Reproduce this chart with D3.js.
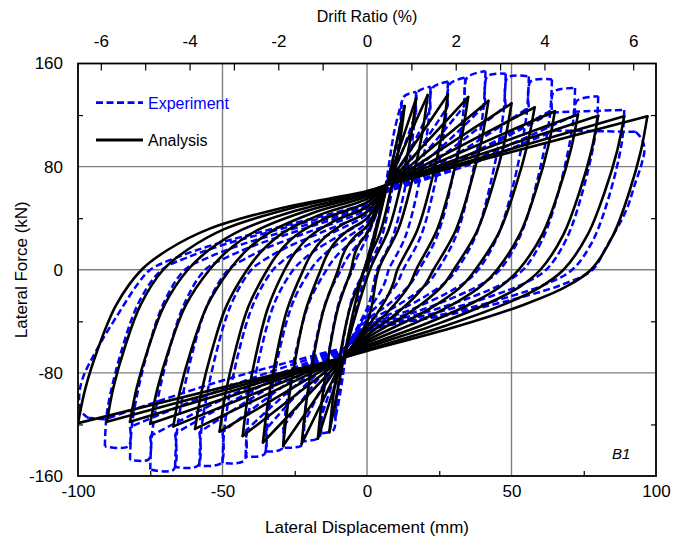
<!DOCTYPE html>
<html>
<head>
<meta charset="utf-8">
<script src="https://cdn.jsdelivr.net/npm/d3@7"></script>
<style>
  body { margin: 0; background: #fff; }
  svg text { font-family: "Liberation Sans", Arial, sans-serif; }
</style>
</head>
<body>
<svg id="chart" width="675" height="545"></svg>
<script>
// ---- axis ticks ----
const dispTicks  = [-100, -50, 0, 50, 100];
const dispMinor  = [-75, -25, 25, 75];
const dispGrid   = [-50, 0, 50];
const forceTicks = [-160, -80, 0, 80, 160];
const forceMinor = [-120, -40, 40, 120];
const forceGrid  = [-80, 0, 80];
const driftTicks = [-6, -4, -2, 0, 2, 4, 6];
const driftAll   = [-6, -5, -4, -3, -2, -1, 1, 2, 3, 4, 5, 6];
const wallHeight = 1535; // mm, displacement -> drift ratio

// ---- Analysis (solid): [displacement mm, force kN] ----
const analysisPosLoad = [
  [[0,0],[7,66],[13,127]],
  [[7,66],[17,133]],
  [[7,66],[21,135.5]],
  [[7,66],[28,136]],
  [[7,66],[35,134]],
  [[7,66],[42,131]],
  [[7,66],[50,129]],
  [[7,66],[58,126]],
  [[7,66],[65,123]],
  [[7,66],[73,120.5]],
  [[7,66],[80,119.5]],
  [[7,66],[89,119]],
  [[7,66],[97,119]]
];
const analysisPosUnload = [
  [[13,127],[11.3,97.8],[8.5,64.8],[4.6,29.2],[-1,0],[-8,-68]],
  [[17,133],[15.1,102.4],[11.9,67.8],[7.4,30.6],[1,0],[-8,-68]],
  [[21,135.5],[19,104.3],[15.6,69.1],[10.8,31.2],[4,0],[1.6,-28.7],[0,-41],[-8,-68]],
  [[28,136],[25.9,104.7],[22.4,69.4],[17.5,31.3],[10.5,0],[9.2,-9.9],[7.4,-19.4],[4.2,-31.5],[0,-45],[-8,-68]],
  [[35,134],[32.8,103.2],[29.2,68.3],[24.2,30.8],[17,0],[15,-10.6],[11.9,-20.6],[6.8,-33.6],[0,-48],[-8,-68]],
  [[42,131],[39.7,100.9],[35.9,66.8],[30.6,30.1],[23,0],[20.2,-11.2],[16.1,-21.9],[9.2,-35.7],[0,-51],[-8,-68]],
  [[50,129],[47.6,99.3],[43.6,65.8],[38,29.7],[30,0],[26.4,-11.7],[21,-22.8],[12,-37.1],[0,-53],[-8,-68]],
  [[58,126],[55.5,97],[51.4,64.3],[45.7,29],[37.5,0],[33,-12.1],[26.3,-23.7],[15,-38.5],[0,-55],[-8,-68]],
  [[65,123],[62.6,94.7],[58.6,62.7],[53,28.3],[45,0],[39.6,-12.5],[31.5,-24.5],[18,-39.9],[0,-57],[-8,-68]],
  [[73,120.5],[70.5,92.8],[66.4,61.5],[60.7,27.7],[52.5,0],[46.2,-13],[36.8,-25.4],[21,-41.3],[0,-59],[-8,-68]],
  [[80,119.5],[77.6,92],[73.6,60.9],[68,27.5],[60,0],[52.8,-13.3],[42,-26],[24,-42.4],[0,-60.5],[-8,-68]],
  [[89,119],[86.5,91.6],[82.3,60.7],[76.4,27.4],[68,0],[59.8,-13.6],[47.6,-26.7],[27.2,-43.4],[0,-62],[-8,-68]],
  [[97,119],[94.7,91.6],[90.8,60.7],[85.3,27.4],[77.5,0],[68.2,-13.9],[54.3,-27.1],[31,-44.1],[0,-63],[-8,-68]]
];
const analysisNegLoad = [
  [[-8,-68],[-13,-126]],
  [[-8,-68],[-17,-131]],
  [[-8,-68],[-22.6,-135]],
  [[-8,-68],[-29,-136.5]],
  [[-8,-68],[-36,-134]],
  [[-8,-68],[-43,-129]],
  [[-8,-68],[-51,-125.5]],
  [[-8,-68],[-59.5,-123.5]],
  [[-8,-68],[-67,-121.5]],
  [[-8,-68],[-75,-119.5]],
  [[-8,-68],[-82,-118]],
  [[-8,-68],[-90,-118]],
  [[-8,-68],[-100,-119]]
];
const analysisNegUnload = [
  [[-13,-126],[-11.6,-97],[-9.2,-64.3],[-5.8,-29],[-1,0],[7,66]],
  [[-17,-131],[-15.6,-100.9],[-13.3,-66.8],[-10.1,-30.1],[-5.5,0],[-4.8,7.3],[-3.9,14.6],[-2.2,21.6],[0,28],[7,66]],
  [[-22.6,-135],[-21.1,-104],[-18.6,-68.9],[-15,-31.1],[-10,0],[-8.8,8.8],[-7,17.7],[-4,26.2],[0,34],[7,66]],
  [[-29,-136.5],[-27.4,-105.1],[-24.8,-69.6],[-21.2,-31.4],[-16,0],[-14.1,10.4],[-11.2,20.8],[-6.4,30.8],[0,40],[7,66]],
  [[-36,-134],[-34.3,-103.2],[-31.5,-68.3],[-27.6,-30.8],[-22,0],[-19.4,11.7],[-15.4,23.4],[-8.8,34.7],[0,45],[7,66]],
  [[-43,-129],[-41.3,-99.3],[-38.4,-65.8],[-34.3,-29.7],[-28.5,0],[-25.1,12.7],[-20,25.5],[-11.4,37.7],[0,49],[7,66]],
  [[-51,-125.5],[-49,-96.6],[-45.7,-64],[-41.1,-28.9],[-34.5,0],[-30.4,13.7],[-24.2,27.3],[-13.8,40.4],[0,52.5],[7,66]],
  [[-59.5,-123.5],[-57.3,-95.1],[-53.7,-63],[-48.7,-28.4],[-41.5,0],[-36.5,14.3],[-29.1,28.6],[-16.6,42.4],[0,55],[7,66]],
  [[-67,-121.5],[-64.7,-93.6],[-60.8,-62],[-55.3,-27.9],[-47.5,0],[-41.8,14.8],[-33.3,29.6],[-19,43.9],[0,57],[7,66]],
  [[-75,-119.5],[-72.5,-92],[-68.4,-60.9],[-62.7,-27.5],[-54.5,0],[-48,15.2],[-38.2,30.4],[-21.8,45],[0,58.5],[7,66]],
  [[-82,-118],[-79.6,-90.9],[-75.6,-60.2],[-70,-27.1],[-62,0],[-54.6,15.5],[-43.4,30.9],[-24.8,45.8],[0,59.5],[7,66]],
  [[-90,-118],[-87.7,-90.9],[-83.8,-60.2],[-78.3,-27.1],[-70.5,0],[-62,15.7],[-49.4,31.5],[-28.2,46.6],[0,60.5],[7,66]],
  [[-100,-119],[-97.4,-91.6],[-93,-60.7],[-86.8,-27.4],[-78,0],[-68.6,15.9],[-54.6,31.7],[-31.2,47],[0,61],[7,66]]
];

// ---- Experiment (dashed): [displacement mm, force kN] ----
const expPosLoad = [
  [[0,0],[6,60],[9.5,108],[12,130]],
  [[6,60],[9,86.1],[12,118]],
  [[6,60],[11.5,87.9],[17,122]],
  [[6,60],[14,89.3],[22,125]],
  [[6,60],[17,90.2],[28,127]],
  [[6,60],[20,90.6],[34,128]],
  [[6,60],[23.5,90.6],[41,128]],
  [[6,60],[27,90.2],[48,127]],
  [[6,60],[31,89.7],[56,126]],
  [[6,60],[35,88.8],[64,124]],
  [[6,60],[39,87],[72,120]],
  [[6,60],[35,87.9],[64,122]],
  [[6,60],[35.5,81.6],[65,108]]
];
const expPosPlateau = [
  [[12,118],[12.6,134],[17,138]],
  [[17,122],[17.6,138],[22,142]],
  [[22,125],[22.6,141],[28,146]],
  [[28,127],[28.6,144],[34,149]],
  [[34,128],[34.6,149],[41,154]],
  [[41,128],[41.6,150],[48,152]],
  [[48,127],[48.6,149],[56,150]],
  [[56,126],[56.6,146],[64,147.6]],
  [[64,124],[64.6,138],[72,141]],
  [[72,120],[72.6,131],[80,134.6]],
  [[64,122],[76,123],[89,124]],
  [[65,108],[80,107.5],[93,107]]
];
const expPosUnload = [
  [[12,130],[11.2,104],[8.4,58.5],[4.6,22.1],[0,0],[-7,-60]],
  [[17,138],[16.2,110.4],[13,62.1],[8.6,23.5],[3.5,0],[1.4,-21],[0,-30],[-7,-60]],
  [[22,142],[21.2,113.6],[17.7,63.9],[13,24.1],[7.5,0],[6.6,-7.3],[5.3,-14.2],[3,-23.1],[0,-33],[-7,-60]],
  [[28,146],[27.2,116.8],[23.4,65.7],[18.4,24.8],[12.5,0],[11,-7.9],[8.8,-15.5],[5,-25.2],[0,-36],[-7,-60]],
  [[34,149],[33.2,119.2],[29.2,67.1],[24.1,25.3],[18,0],[15.8,-8.6],[12.6,-16.8],[7.2,-27.3],[0,-39],[-7,-60]],
  [[41,154],[40.2,123.2],[36,69.3],[30.8,26.2],[24.5,0],[21.6,-9],[17.2,-17.6],[9.8,-28.7],[0,-41],[-7,-60]],
  [[48,152],[47.2,121.6],[42.9,68.4],[37.5,25.8],[31,0],[27.3,-9.5],[21.7,-18.5],[12.4,-30.1],[0,-43],[-7,-60]],
  [[56,150],[55.2,120],[50.8,67.5],[45.1,25.5],[38.5,0],[33.9,-9.7],[27,-18.9],[15.4,-30.8],[0,-44],[-7,-60]],
  [[64,147.6],[63.2,118.1],[58.6,66.4],[52.8,25.1],[46,0],[40.5,-9.9],[32.2,-19.4],[18.4,-31.5],[0,-45],[-7,-60]],
  [[72,141],[71.2,112.8],[66.6,63.5],[60.8,24],[54,0],[47.5,-10.1],[37.8,-19.8],[21.6,-32.2],[0,-46],[-7,-60]],
  [[80,134.6],[79.2,107.7],[74.6,60.6],[68.8,22.9],[62,0],[54.6,-10.3],[43.4,-20.2],[24.8,-32.9],[0,-47],[-7,-60]],
  [[89,124],[88.2,99.2],[83.6,55.8],[77.8,21.1],[71,0],[62.5,-10.6],[49.7,-20.6],[28.4,-33.6],[0,-48],[-7,-60]],
  [[93,107],[95.2,101],[96,93],[95,82],[92.5,65],[89.8,46.6],[82.9,18],[78,0],[68.6,-10.6],[54.6,-20.6],[31.2,-33.6],[0,-48],[-7,-60]]
];
const expNegLoad = [
  [[-7,-60],[-9.2,-95],[-11,-116]],
  [[-7,-60],[-9,-83.4],[-11,-112]],
  [[-7,-60],[-11.5,-85.2],[-16,-116]],
  [[-7,-60],[-14.5,-87],[-22,-120]],
  [[-7,-60],[-18,-87.9],[-29,-122]],
  [[-7,-60],[-21,-88.8],[-35,-124]],
  [[-7,-60],[-24.5,-89.3],[-42,-125]],
  [[-7,-60],[-28.5,-89.7],[-50,-126]],
  [[-7,-60],[-32.5,-89.7],[-58,-126]],
  [[-7,-60],[-36.7,-90.2],[-66.4,-127]],
  [[-7,-60],[-41,-91],[-75,-129]],
  [[-7,-60],[-44.5,-87.9],[-82,-122]],
  [[-7,-60],[-48.9,-85.2],[-90.7,-116]]
];
const expNegPlateau = [
  [[-11,-112],[-11.5,-124],[-16,-127]],
  [[-16,-116],[-16.5,-130],[-22,-133]],
  [[-22,-120],[-22.5,-136],[-29,-138]],
  [[-29,-122],[-29.5,-139],[-35,-141]],
  [[-35,-124],[-35.5,-143],[-42,-145]],
  [[-42,-125],[-42.5,-148],[-50,-150]],
  [[-50,-126],[-50.5,-150],[-58,-152]],
  [[-58,-126],[-58.5,-152],[-66.4,-153]],
  [[-66.4,-127],[-66.9,-155],[-75,-155]],
  [[-75,-129],[-75.5,-147],[-82,-147.5]],
  [[-82,-122],[-82.5,-137],[-90.7,-137]],
  [[-90.7,-116],[-93.5,-115.5],[-96.4,-115]]
];
const expNegUnload = [
  [[-11,-116],[-10.2,-92.8],[-8,-52.2],[-4.8,-19.7],[-1,0],[6,60]],
  [[-16,-127],[-15.2,-101.6],[-12.7,-57.2],[-9.2,-21.6],[-5,0],[-3.5,9.5],[-2,16],[0,25],[6,60]],
  [[-22,-133],[-21.2,-106.4],[-18.1,-59.9],[-13.9,-22.6],[-9,0],[-7.9,5.2],[-6.3,11],[-3.6,18.6],[0,29],[6,60]],
  [[-29,-138],[-28.2,-110.4],[-24.5,-62.1],[-19.7,-23.5],[-14,0],[-12.3,5.9],[-9.8,12.5],[-5.6,21.1],[0,33],[6,60]],
  [[-35,-141],[-34.2,-112.8],[-30.4,-63.5],[-25.4,-24],[-19.5,0],[-17.2,6.7],[-13.7,14.1],[-7.8,23.7],[0,37],[6,60]],
  [[-42,-145],[-41.2,-116],[-37,-65.3],[-31.8,-24.7],[-25.5,0],[-22.4,7.2],[-17.9,15.2],[-10.2,25.6],[0,40],[6,60]],
  [[-50,-150],[-49.2,-120],[-44.8,-67.5],[-39.1,-25.5],[-32.5,0],[-28.6,7.7],[-22.8,16.3],[-13,27.5],[0,43],[6,60]],
  [[-58,-152],[-57.2,-121.6],[-52.6,-68.4],[-46.8,-25.8],[-40,0],[-35.2,8.1],[-28,17.1],[-16,28.8],[0,45],[6,60]],
  [[-66.4,-153],[-65.6,-122.4],[-60.9,-68.9],[-55,-26],[-48,0],[-42.2,8.5],[-33.6,17.9],[-19.2,30.1],[0,47],[6,60]],
  [[-75,-155],[-74.2,-124],[-69.3,-69.8],[-63.2,-26.4],[-56,0],[-49.3,8.8],[-39.2,18.6],[-22.4,31.4],[0,49],[6,60]],
  [[-82,-147.5],[-81.2,-118],[-76.3,-66.4],[-70.2,-25.1],[-63,0],[-55.4,9],[-44.1,19],[-25.2,32],[0,50],[6,60]],
  [[-90.7,-137],[-89.9,-109.6],[-84.8,-61.7],[-78.5,-23.3],[-71,0],[-62.5,9.2],[-49.7,19.4],[-28.4,32.6],[0,51],[6,60]],
  [[-96.4,-115],[-98.8,-110],[-99.6,-100],[-98.5,-85],[-93,-60],[-86,-34],[-79,-10],[-75,0],[-66,9.4],[-52.5,19.8],[-30,33.3],[0,52],[6,60]]
];

// ---- layout ----
const plot = { left: 78, right: 656, top: 63.5, bottom: 476 };
const svg = d3.select("#chart");

const x = d3.scaleLinear().domain([-100, 100]).range([plot.left, plot.right]);
const y = d3.scaleLinear().domain([-160, 160]).range([plot.bottom, plot.top]);
const driftMax = 100 * 100 / wallHeight;
const xDrift = d3.scaleLinear().domain([-driftMax, driftMax]).range([plot.left, plot.right]);

const fontSize = 17;
const gridColor = "#7f7f7f";

// grid lines
svg.append("g").selectAll("line").data(dispGrid).join("line")
  .attr("x1", d => x(d)).attr("x2", d => x(d))
  .attr("y1", plot.top).attr("y2", plot.bottom)
  .attr("stroke", gridColor).attr("stroke-width", 1.4);
svg.append("g").selectAll("line").data(forceGrid).join("line")
  .attr("y1", d => y(d)).attr("y2", d => y(d))
  .attr("x1", plot.left).attr("x2", plot.right)
  .attr("stroke", gridColor).attr("stroke-width", 1.4);

// hysteresis curves
svg.append("clipPath").attr("id", "plotClip").append("rect")
  .attr("x", plot.left).attr("y", plot.top)
  .attr("width", plot.right - plot.left).attr("height", plot.bottom - plot.top);

const line = d3.line()
  .x(p => x(p[0])).y(p => y(p[1]))
  .curve(d3.curveCatmullRom.alpha(0.5));

const curves = svg.append("g").attr("clip-path", "url(#plotClip)");

const experimentBranches = [].concat(expPosLoad, expPosPlateau, expPosUnload,
                                     expNegLoad, expNegPlateau, expNegUnload);
curves.append("g").selectAll("path").data(experimentBranches).join("path")
  .attr("d", line)
  .attr("fill", "none")
  .attr("stroke", "#0000ff")
  .attr("stroke-width", 2.5)
  .attr("stroke-dasharray", "7,3.5");

const analysisBranches = [].concat(analysisPosLoad, analysisPosUnload,
                                   analysisNegLoad, analysisNegUnload);
curves.append("g").selectAll("path").data(analysisBranches).join("path")
  .attr("d", line)
  .attr("fill", "none")
  .attr("stroke", "#000")
  .attr("stroke-width", 2.6)
  .attr("stroke-linejoin", "round")
  .attr("stroke-linecap", "round");

// axes
function styleAxis(g) {
  g.select(".domain").remove();
  g.selectAll("line").attr("stroke", "#000").attr("stroke-width", 1.2);
  g.selectAll("text").attr("font-size", fontSize).attr("fill", "#000")
    .attr("font-family", "'Liberation Sans', Arial, sans-serif");
}

// bottom: labels + inward minor ticks
svg.append("g").attr("transform", `translate(0,${plot.bottom})`)
  .call(d3.axisBottom(x).tickValues(dispTicks).tickSize(0).tickPadding(9).tickFormat(d => String(d)))
  .call(styleAxis);
svg.append("g").attr("transform", `translate(0,${plot.bottom})`)
  .call(d3.axisBottom(x).tickValues(dispMinor).tickSize(-5).tickFormat(""))
  .call(styleAxis);

// left: labels + inward minor ticks
svg.append("g").attr("transform", `translate(${plot.left},0)`)
  .call(d3.axisLeft(y).tickValues(forceTicks).tickSize(0).tickPadding(15).tickFormat(d => String(d)))
  .call(styleAxis);
svg.append("g").attr("transform", `translate(${plot.left},0)`)
  .call(d3.axisLeft(y).tickValues(forceMinor).tickSize(-5).tickFormat(""))
  .call(styleAxis);

// right: inward ticks only
svg.append("g").attr("transform", `translate(${plot.right},0)`)
  .call(d3.axisRight(y).tickValues(forceMinor).tickSize(-5).tickFormat(""))
  .call(styleAxis);

// top: drift ratio
svg.append("g").attr("transform", `translate(0,${plot.top})`)
  .call(d3.axisTop(xDrift).tickValues(driftTicks).tickSize(0).tickPadding(17).tickFormat(d => String(d)))
  .call(styleAxis);
svg.append("g").attr("transform", `translate(0,${plot.top})`)
  .call(d3.axisTop(xDrift).tickValues(driftAll).tickSize(-7).tickFormat(""))
  .call(styleAxis);

// frame
svg.append("rect")
  .attr("x", plot.left).attr("y", plot.top)
  .attr("width", plot.right - plot.left).attr("height", plot.bottom - plot.top)
  .attr("fill", "none").attr("stroke", "#000").attr("stroke-width", 1.8);

// axis titles
svg.append("text").attr("x", (plot.left + plot.right) / 2).attr("y", 533)
  .attr("text-anchor", "middle").attr("font-size", fontSize)
  .text("Lateral Displacement (mm)");
svg.append("text").attr("x", (plot.left + plot.right) / 2).attr("y", 22)
  .attr("text-anchor", "middle").attr("font-size", fontSize - 1)
  .text("Drift Ratio (%)");
svg.append("text")
  .attr("transform", `translate(27,${(plot.top + plot.bottom) / 2}) rotate(-90)`)
  .attr("text-anchor", "middle").attr("font-size", fontSize)
  .text("Lateral Force (kN)");

// legend
const legend = svg.append("g");
legend.append("line").attr("x1", 96).attr("x2", 143).attr("y1", 102.7).attr("y2", 102.7)
  .attr("stroke", "#0000ff").attr("stroke-width", 2.8).attr("stroke-dasharray", "7,3.5");
legend.append("text").attr("x", 148).attr("y", 108.5).attr("font-size", 16)
  .attr("fill", "#0000ff").text("Experiment");
legend.append("line").attr("x1", 96).attr("x2", 143).attr("y1", 140).attr("y2", 140)
  .attr("stroke", "#000").attr("stroke-width", 2.8);
legend.append("text").attr("x", 148).attr("y", 145.8).attr("font-size", 16)
  .attr("fill", "#000").text("Analysis");

// specimen tag
svg.append("text").attr("x", 612).attr("y", 459).attr("font-size", 15)
  .attr("font-style", "italic").text("B1");
</script>
</body>
</html>
